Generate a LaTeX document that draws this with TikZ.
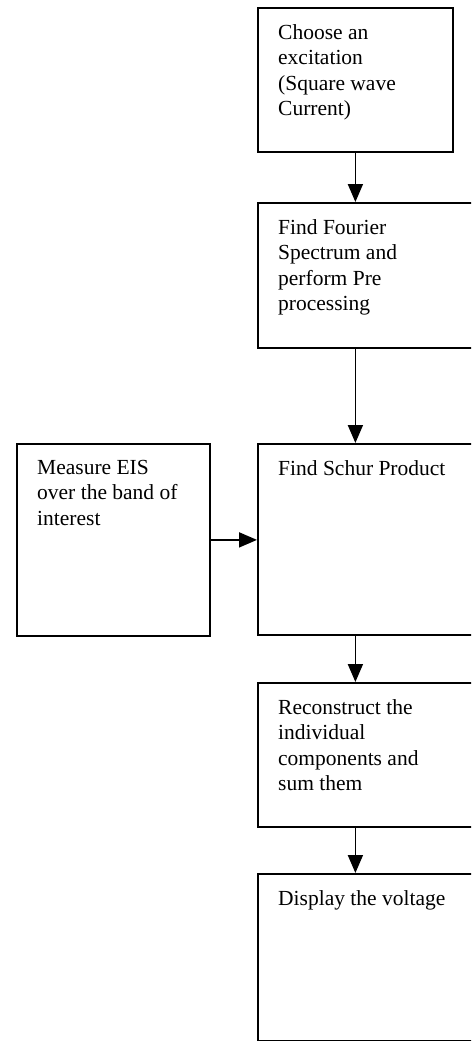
\documentclass[tikz,border=0pt]{standalone}
\usepackage{fontspec}
\setmainfont{Liberation Serif}
\usetikzlibrary{arrows.meta,positioning}

\begin{document}
\begin{tikzpicture}[x=1pt, y=1pt,
  box/.style={draw, line width=1.8pt, anchor=north west, inner sep=0pt},
  txt/.style={anchor=north west, align=left, inner sep=0pt, font=\fontsize{21.5}{25.5}\selectfont},
  arr/.style={-{Triangle[length=18pt, width=15pt]}, line width=1.8pt}]
  \clip (0,0) rectangle (471,-1041);

  % main column
  \node[box, minimum width=195pt, minimum height=144pt] (choose) at (257,-7) {};
  \node[box, minimum width=228pt, minimum height=145pt] (fourier) at (257,-202) {};
  \node[box, minimum width=228pt, minimum height=191pt] (schur) at (257,-443) {};
  \node[box, minimum width=228pt, minimum height=144pt] (recon) at (257,-682) {};
  \node[box, minimum width=228pt, minimum height=167pt] (display) at (257,-873) {};
  % side input
  \node[box, minimum width=193pt, minimum height=192pt] (eis) at (16,-443) {};

  \node[txt, below right=17pt and 21pt of choose.north west] (chooseT)
    {Choose an\\ excitation\\ (Square wave\\ Current)};
  \node[txt, below right=17pt and 21pt of fourier.north west] (fourierT)
    {Find Fourier\\ Spectrum and\\ perform Pre\\ processing};
  \node[txt, below right=17pt and 21pt of schur.north west] (schurT) {Find Schur Product};
  \node[txt, below right=17pt and 21pt of recon.north west] (reconT)
    {Reconstruct the\\ individual\\ components and\\ sum them};
  \node[txt, below right=17pt and 21pt of display.north west] (displayT) {Display the voltage};
  \node[txt, below right=17pt and 21pt of eis.north west] (eisT)
    {Measure EIS\\ over the band of\\ interest};

  \draw[arr] (choose.south) -- (fourier.north -| choose.south);
  \draw[arr] (fourier.south -| choose.south) -- (schur.north -| choose.south);
  \draw[arr] (schur.south -| choose.south) -- (recon.north -| choose.south);
  \draw[arr] (recon.south -| choose.south) -- (display.north -| choose.south);
  \draw[arr] (eis.east) -- (eis.east -| schur.west);
\end{tikzpicture}
\end{document}
